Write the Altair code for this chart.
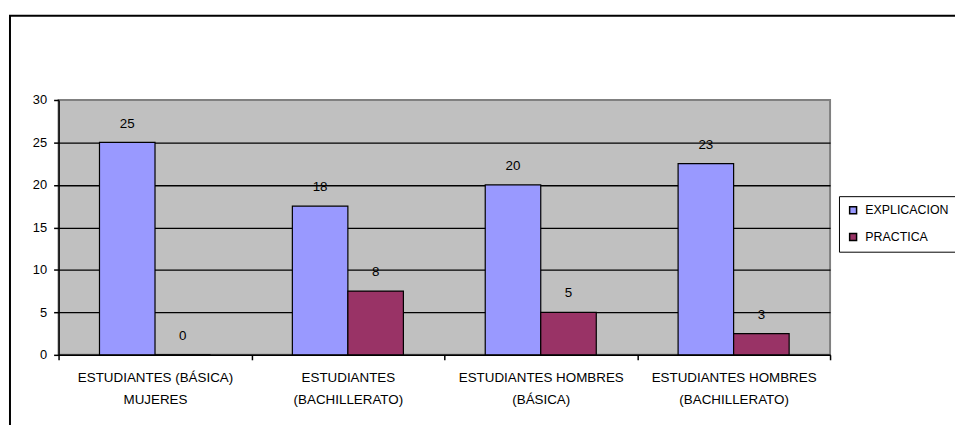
import altair as alt
import pandas as pd

categorias = [
    "ESTUDIANTES (BÁSICA)|MUJERES",
    "ESTUDIANTES|(BACHILLERATO)",
    "ESTUDIANTES HOMBRES|(BÁSICA)",
    "ESTUDIANTES HOMBRES|(BACHILLERATO)",
]
series = ["EXPLICACION", "PRACTICA"]
explicacion = [25, 17.5, 20, 22.5]
practica = [0, 7.5, 5, 2.5]
colores = ["#9999FF", "#993366"]
y_ticks = [0, 5, 10, 15, 20, 25, 30]

rows = []
for c, e, p in zip(categorias, explicacion, practica):
    rows.append({"cat": c, "serie": series[0], "valor": e})
    rows.append({"cat": c, "serie": series[1], "valor": p})
df = pd.DataFrame(rows)

FONT = "Liberation Sans"

base = alt.Chart(df).encode(
    x=alt.X(
        "cat:N",
        sort=categorias,
        scale=alt.Scale(paddingInner=0, paddingOuter=0),
        axis=alt.Axis(
            title=None,
            labelAngle=0,
            labelExpr="split(datum.label, '|')",
            tickBand="extent",
            grid=False,
            domainColor="black",
            domainWidth=1.5,
            tickColor="black",
            tickWidth=1.5,
            tickSize=5,
            labelPadding=11,
            labelLineHeight=22,
            labelFont=FONT,
            labelFontSize=13.5,
            labelColor="black",
            labelBaseline="top",
        ),
    ),
    xOffset=alt.XOffset(
        "serie:N", sort=series, scale=alt.Scale(paddingInner=0, paddingOuter=0.737)
    ),
    y=alt.Y(
        "valor:Q",
        scale=alt.Scale(domain=[0, 30], nice=False),
        axis=alt.Axis(
            title=None,
            values=y_ticks,
            grid=True,
            gridColor={"condition": {"test": "datum.value === 30", "value": "#808080"}, "value": "black"},
            gridWidth=1.3,
            domainColor="black",
            domainWidth=1.5,
            tickColor="black",
            tickWidth=1.5,
            tickSize=5,
            labelPadding=7,
            labelFont=FONT,
            labelFontSize=13,
            labelColor="black",
        ),
    ),
)

bars = base.mark_bar(stroke="black", strokeWidth=1.2).encode(
    color=alt.Color(
        "serie:N",
        sort=series,
        scale=alt.Scale(domain=series, range=colores),
        legend=alt.Legend(
            title=None,
            orient="none",
            legendX=787,
            legendY=97,
            strokeColor="black",
            fillColor="white",
            padding=8,
            symbolType="square",
            symbolSize=49,
            symbolStrokeColor="black",
            symbolStrokeWidth=1.5,
            labelFont=FONT,
            labelFontSize=12.5,
            labelColor="black",
            labelOffset=6,
            rowPadding=13,
        ),
    )
)

labels = base.mark_text(
    dy=-19, baseline="middle", font=FONT, fontSize=13.5, color="black"
).encode(text=alt.Text("valor:Q", format=".0f"))

frame = alt.Chart(alt.Data(values=[{"k": 1}])).mark_rect(
    fillOpacity=0, stroke="black", strokeWidth=2
).encode(
    x=alt.value(-49), x2=alt.value(2000), y=alt.value(-85), y2=alt.value(1000)
)

chart = (
    alt.layer(frame, bars, labels)
    .properties(
        width=778,
        height=257,
        autosize=alt.AutoSizeParams(type="none"),
        padding={"left": 51, "top": 91, "right": 126, "bottom": 69},
        background="white",
    )
    .configure_view(fill="#C0C0C0", stroke="#808080", strokeWidth=2)
)

chart.save("out.html", embed_options={"renderer": "svg", "actions": False})
